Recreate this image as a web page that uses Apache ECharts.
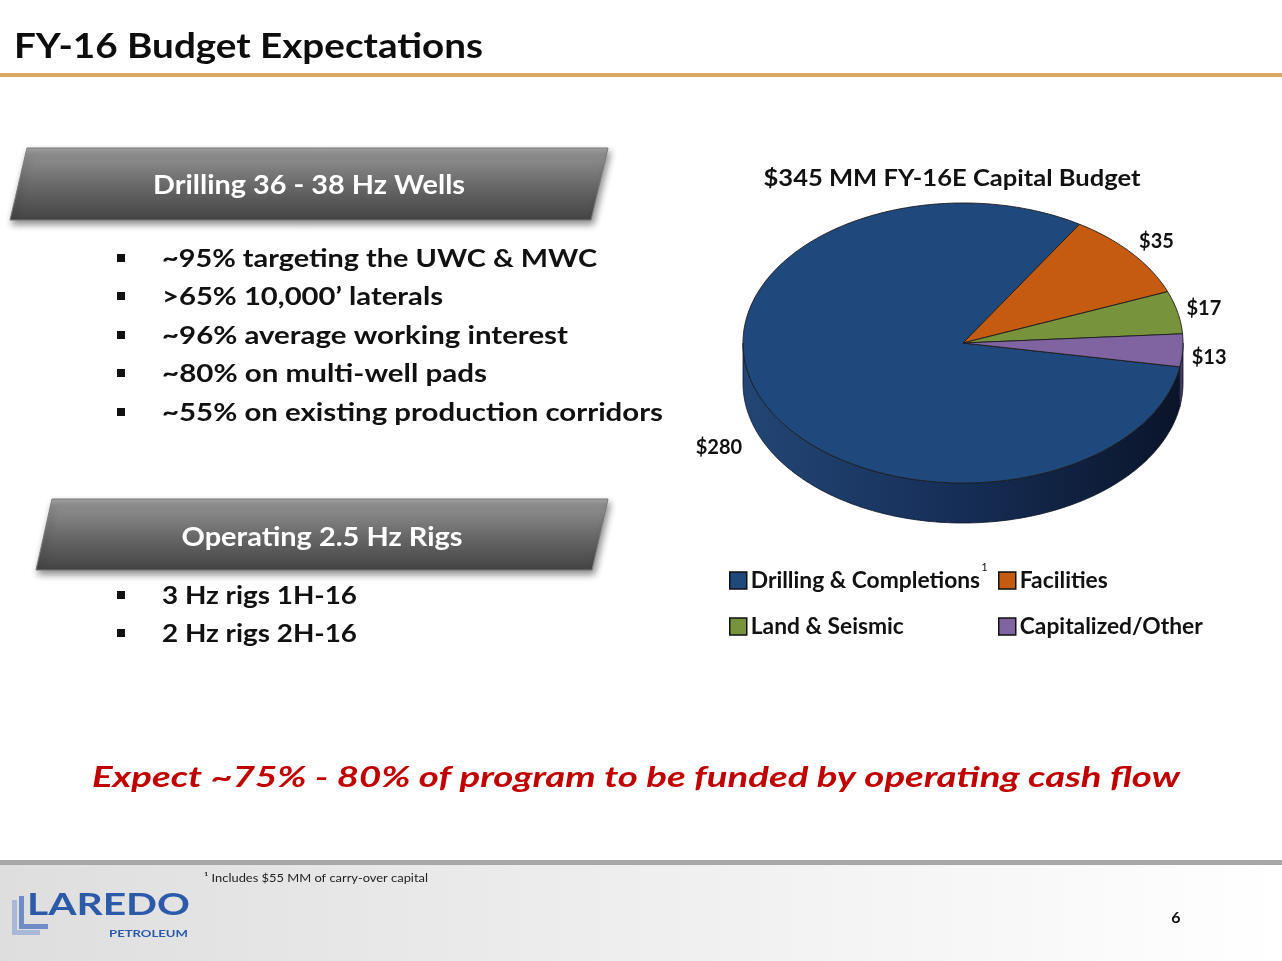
<!DOCTYPE html>
<html>
<head>
<meta charset="utf-8">
<script src="https://cdn.jsdelivr.net/npm/echarts@6/dist/echarts.min.js"></script>
<style>
html,body{margin:0;padding:0;background:#fff;}
#main{width:1282px;height:961px;}
</style>
</head>
<body>
<div id="main"></div>
<script>
// ---------- data ----------
const categories = ['Drilling & Completions', 'Facilities', 'Land & Seismic', 'Capitalized/Other'];
const values = [280, 35, 17, 13];
const chartTitle = '$345 MM FY-16E Capital Budget';
const slideTitle = 'FY-16 Budget Expectations';
const banner1 = 'Drilling 36 - 38 Hz Wells';
const bullets1 = ['~95% targeting the UWC & MWC', '>65% 10,000\u2019 laterals', '~96% average working interest', '~80% on multi-well pads', '~55% on existing production corridors'];
const banner2 = 'Operating 2.5 Hz Rigs';
const bullets2 = ['3 Hz rigs 1H-16', '2 Hz rigs 2H-16'];
const conclusion = 'Expect ~75% - 80% of program to be funded by operating cash flow';
const footnote = '\u00B9 Includes $55 MM of carry-over capital';
const pageNumber = '6';

// ---------- styling / layout ----------
const FONT = 'Lato';
const palette = ['#1F497D', '#C55A11', '#77933C', '#8064A2'];
const sideColors = [null, '#6b3009', '#404f20', '#4a3a60'];
const PIE = { cx: 963, cy: 343, rx: 220, ry: 140, depth: 40, start: 99.8 };

const cvs = document.createElement('canvas');
const ctx = cvs.getContext('2d');
function measure(text, size, weight, fstyle, family) {
  ctx.font = (fstyle || 'normal') + ' ' + (weight || 'bold') + ' ' + size + 'px ' + (family || FONT);
  return ctx.measureText(text).width;
}
function txt(text, x, y, o) {
  const w = measure(text, o.size, o.weight, o.fstyle, o.family);
  const sx = o.width ? o.width / w : 1;
  return {
    type: 'text', x: x, y: y, scaleX: sx, silent: true, z: 10,
    style: {
      text: text, fill: o.color || '#111', fontSize: o.size,
      fontWeight: o.weight || 'bold', fontStyle: o.fstyle || 'normal',
      fontFamily: o.family || FONT, align: o.align || 'left', verticalAlign: 'middle'
    }
  };
}

const elements = [];
// header
elements.push(txt(slideTitle, 14, 47, { size: 35, width: 469, color: '#0d0d0d' }));
elements.push({ type: 'rect', shape: { x: 0, y: 73, width: 1282, height: 4 }, style: { fill: '#DCA762' }, silent: true });

// banners
function banner(pts, label, cx, cy, w) {
  elements.push({
    type: 'polygon', shape: { points: pts }, silent: true, z: 5,
    style: {
      fill: new echarts.graphic.LinearGradient(0, 0, 0, 1, [
        { offset: 0, color: '#a8a8a8' }, { offset: 0.1, color: '#8f8f8f' },
        { offset: 0.55, color: '#666666' }, { offset: 1, color: '#434343' }]),
      stroke: '#7a7a7a', lineWidth: 1,
      shadowColor: 'rgba(0,0,0,0.45)', shadowBlur: 7, shadowOffsetX: 2, shadowOffsetY: 4
    }
  });
  elements.push(txt(label, cx, cy, { size: 26, width: w, color: '#ffffff', align: 'center' }));
}
banner([[27, 148], [608, 148], [591, 220], [10, 220]], banner1, 309, 186, 312);
banner([[52, 499], [608, 499], [592, 570], [36, 570]], banner2, 322, 538, 281);

// bullets
const b1y = [259, 297, 336, 374, 413];
const b1w = [435, 281, 406, 325, 501];
bullets1.forEach(function (t, i) {
  elements.push({ type: 'rect', shape: { x: 117, y: b1y[i] - 5, width: 8, height: 8 }, style: { fill: '#111' }, silent: true });
  elements.push(txt(t, 162, b1y[i], { size: 25, width: b1w[i] }));
});
const b2y = [596, 634];
bullets2.forEach(function (t, i) {
  elements.push({ type: 'rect', shape: { x: 117, y: b2y[i] - 5, width: 8, height: 8 }, style: { fill: '#111' }, silent: true });
  elements.push(txt(t, 162, b2y[i], { size: 25, width: 195 }));
});

// chart title
elements.push(txt(chartTitle, 952, 179, { size: 22, width: 377, align: 'center' }));

// conclusion
elements.push(txt(conclusion, 636, 778, { size: 29, width: 1088, color: '#C00000', fstyle: 'italic', align: 'center' }));

// footer
elements.push({ type: 'rect', shape: { x: 0, y: 865, width: 1282, height: 96 }, silent: true,
  style: { fill: new echarts.graphic.LinearGradient(0, 0, 1, 0, [{ offset: 0, color: '#dedede' }, { offset: 1, color: '#ffffff' }]) } });
elements.push({ type: 'rect', shape: { x: 0, y: 860, width: 1282, height: 5 }, style: { fill: '#a6a6a6' }, silent: true });
elements.push(txt(footnote, 204, 878, { size: 12, weight: 'normal', width: 224, color: '#222' }));
elements.push(txt(pageNumber, 1176, 918, { size: 16, color: '#111', align: 'center' }));

// logo
elements.push({ type: 'polygon', shape: { points: [[12, 900], [17, 900], [17, 930], [40, 930], [40, 935], [12, 935]] }, style: { fill: '#a9b7d8' }, silent: true });
elements.push({ type: 'polygon', shape: { points: [[19, 896], [24, 896], [24, 924], [48, 924], [48, 929], [19, 929]] }, style: { fill: '#6f8cc7' }, silent: true });
elements.push(txt('LAREDO', 27, 905, { size: 31, width: 163, color: '#2A5AA8' }));
elements.push(txt('PETROLEUM', 109, 934, { size: 9, width: 79, color: '#2A5AA8' }));

// legend text sizing (match reference width of the longest entry)
const legendSize = Math.round(21 * 229 / measure(categories[0], 21) * 10) / 10;
const supX = 751 + measure(categories[0], legendSize) + 1;
elements.push(txt('1', supX, 567, { size: 11, weight: 'normal' }));

// ---------- pie (elliptical 3D look built from the values) ----------
const total = values.reduce(function (a, b) { return a + b; }, 0);
function pt(a, dy) {
  const r = a * Math.PI / 180;
  return [PIE.cx + PIE.rx * Math.sin(r), PIE.cy - PIE.ry * Math.cos(r) + (dy || 0)];
}
function arc(a0, a1, dy) {
  const out = [];
  const n = Math.max(2, Math.ceil(Math.abs(a1 - a0)));
  for (let k = 0; k <= n; k++) out.push(pt(a0 + (a1 - a0) * k / n, dy));
  return out;
}
function renderItem(params, api) {
  const i = api.value(1);
  let before = 0;
  for (let k = 0; k < i; k++) before += values[k];
  const s = PIE.start + before / total * 360;
  const e = s + api.value(0) / total * 360;
  const color = api.visual('color');
  const children = [];
  // side wall (front half only: 90..270 deg clockwise from top)
  for (let k = -1; k <= 1; k++) {
    const a0 = Math.max(s, 90 + 360 * k), a1 = Math.min(e, 270 + 360 * k);
    if (a1 > a0) {
      const top = arc(a0, a1, 0);
      const bot = arc(a1, a0, PIE.depth);
      const fill = i === 0
        ? new echarts.graphic.LinearGradient(PIE.cx - PIE.rx, 0, PIE.cx + PIE.rx, 0, [
            { offset: 0, color: '#234675' }, { offset: 0.45, color: '#17305a' }, { offset: 1, color: '#0a1429' }], true)
        : sideColors[i];
      children.push({ type: 'polygon', z2: 1, shape: { points: top.concat(bot) }, style: { fill: fill, stroke: '#0b1528', lineWidth: 0.8 } });
    }
  }
  // top face
  children.push({ type: 'polygon', z2: 5, shape: { points: [[PIE.cx, PIE.cy]].concat(arc(s, e, 0)) },
    style: { fill: color, stroke: '#1c1c1c', lineWidth: 0.9 } });
  // label
  const m = (s + e) / 2, mr = m * Math.PI / 180;
  const sn = Math.sin(mr), cs = Math.cos(mr);
  const anchor = pt(m, PIE.depth * Math.min(1, Math.max(0, -cs * 3)));
  const label = '$' + api.value(0);
  const hw = measure(label, 20) / 2;
  const gx = sn >= 0 ? 9 : 22;
  const lx = anchor[0] + sn * gx + (sn >= 0 ? hw : -hw);
  const ly = anchor[1] - cs * 18;
  children.push({ type: 'text', z2: 10, x: lx, y: ly,
    style: { text: label, fill: '#111', fontSize: 20, fontWeight: 'bold', fontFamily: FONT, align: 'center', verticalAlign: 'middle' } });
  return { type: 'group', children: children };
}

const series = categories.map(function (name, i) {
  return {
    type: 'custom', name: name, coordinateSystem: 'none', silent: true,
    data: [[values[i], i]], renderItem: renderItem,
    itemStyle: { color: palette[i] }
  };
});

const legendCommon = {
  orient: 'vertical', top: 564, itemWidth: 17, itemHeight: 17, itemGap: 23,
  icon: 'rect', selectedMode: false,
  itemStyle: { borderColor: '#111', borderWidth: 1.5 },
  textStyle: { fontFamily: FONT, fontWeight: 'bold', fontSize: legendSize, color: '#111', padding: [0, 0, 0, -1] }
};

const chart = echarts.init(document.getElementById('main'), null, { renderer: 'canvas' });
chart.setOption({
  animation: false,
  backgroundColor: '#ffffff',
  color: palette,
  legend: [
    Object.assign({ left: 724, data: [categories[0], categories[2]] }, legendCommon),
    Object.assign({ left: 993, data: [categories[1], categories[3]] }, legendCommon)
  ],
  graphic: { elements: elements },
  series: series
});
</script>
</body>
</html>
